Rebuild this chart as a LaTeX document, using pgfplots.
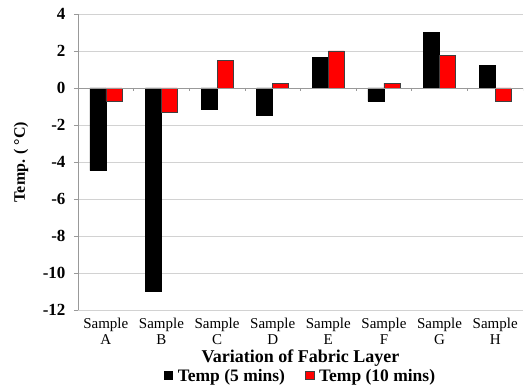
\documentclass[border=0pt]{standalone}
\usepackage{fontspec}
\setmainfont{Liberation Serif}
\usepackage{pgfplots}
\pgfplotsset{compat=1.18}
\begin{document}
\begin{tikzpicture}
\begin{axis}[
  scale only axis, width=445pt, height=296pt,
  at={(0,0)}, anchor=south west,
  /pgf/number format/assume math mode=true,
  ymin=-12, ymax=4, ytick={-12,-10,...,4},
  xmin=-0.5, xmax=7.5,
  xtick={0,...,7},
  xticklabels={{Sample\\A},{Sample\\B},{Sample\\C},{Sample\\D},{Sample\\E},{Sample\\F},{Sample\\G},{Sample\\H}},
  xticklabel style={align=center, font=\fontsize{15}{16}\selectfont, yshift=-1pt},
  yticklabel style={font=\bfseries\fontsize{17}{18}\selectfont, xshift=-5pt},
  axis y line*=left, axis x line*=bottom,
  x axis line style={draw=none},
  y axis line style={draw=gray!80},
  y tick style={draw=gray!80},
  tick align=outside,
  major tick length=4pt,
  x tick style={draw=none},
  ymajorgrids, grid style={gray!35, line width=0.6pt},
  ybar=0pt, bar width=16pt,
  ylabel={\textbf{Temp. ( °C)}},
  ylabel style={at={(-0.128,0.5)}, anchor=center, font=\fontsize{16}{18}\selectfont},
  xlabel={\textbf{Variation of Fabric Layer}},
  xlabel style={at={(0.5,-0.162)}, anchor=center, font=\fontsize{18}{20}\selectfont},
  legend style={at={(0.5,-0.225)}, anchor=center, draw=none, fill=none,
    legend columns=2, font=\bfseries\fontsize{17.5}{19}\selectfont,
    /tikz/every even column/.append style={column sep=18pt},
    /tikz/every odd column/.append style={column sep=3pt}},
  legend image code/.code={\fill[#1] (0pt,-3pt) rectangle (8.5pt,5.5pt);},
]
\addplot[fill=black, draw=black] coordinates {(0,-4.47) (1,-11.0) (2,-1.14) (3,-1.48) (4,1.66) (5,-0.72) (6,2.99) (7,1.24)};
\addlegendentry{Temp (5 mins)}
\addplot[fill=red, draw=black!75, line width=0.5pt] coordinates {(0,-0.70) (1,-1.30) (2,1.50) (3,0.27) (4,2.00) (5,0.27) (6,1.77) (7,-0.72)};
\addlegendentry{Temp (10 mins)}
\draw[gray!80, line width=0.7pt] (axis cs:-0.5,0) -- (axis cs:7.5,0);
\pgfplotsinvokeforeach{0.5,1.5,2.5,3.5,4.5,5.5,6.5,7.5}{
  \draw[gray!80, line width=0.6pt] (axis cs:#1,0) -- ([yshift=-3pt]axis cs:#1,0);
}
\end{axis}
\pgfresetboundingbox
\path[use as bounding box] (-78pt,-75pt) rectangle (449pt,310pt);
\end{tikzpicture}
\end{document}
